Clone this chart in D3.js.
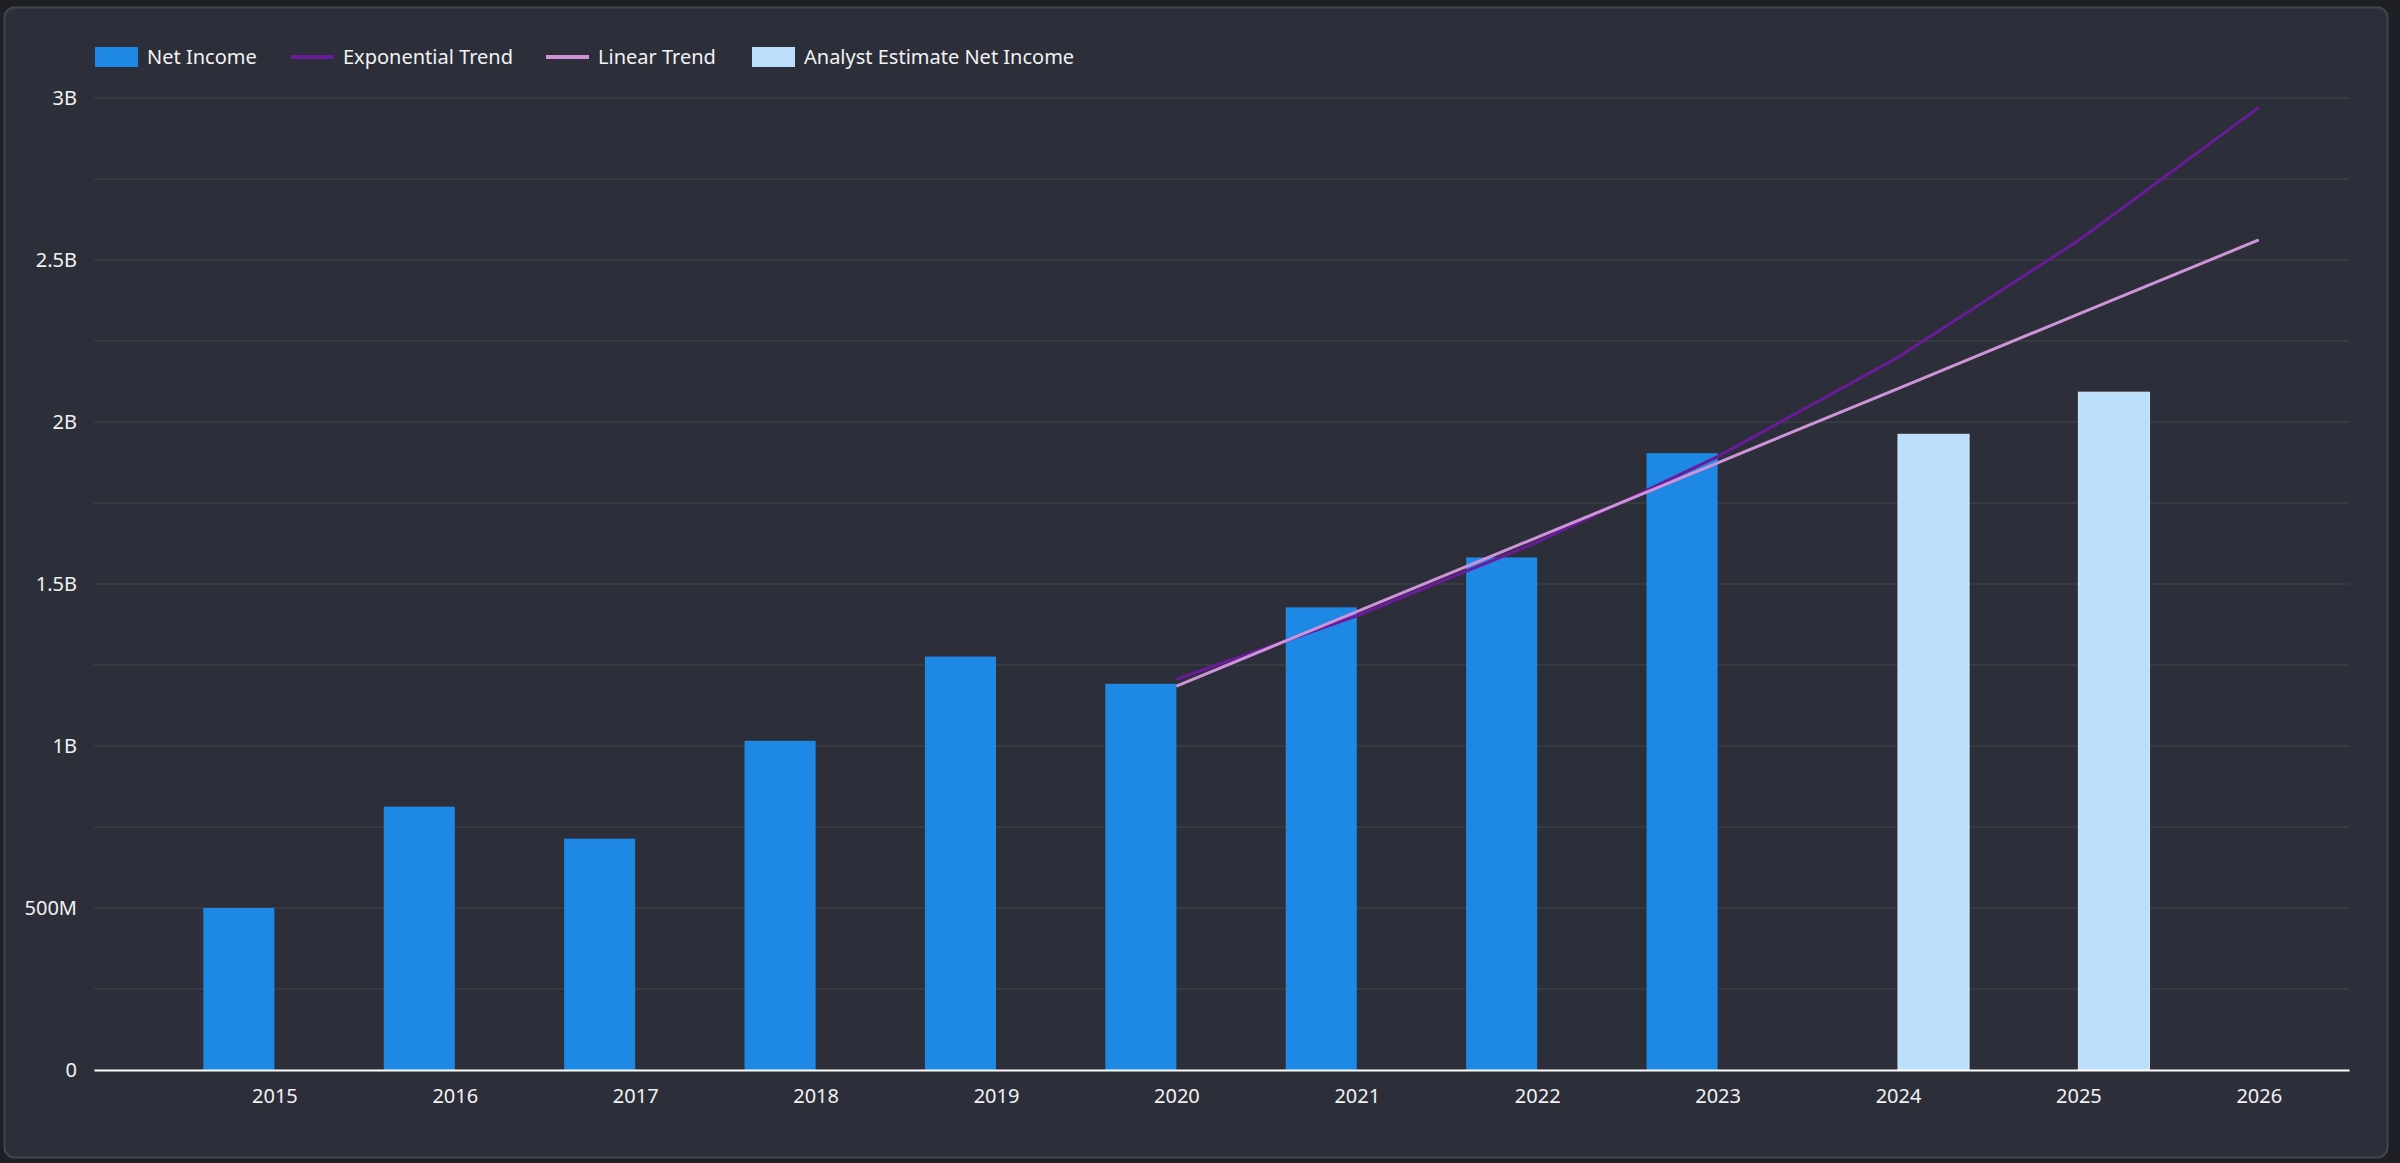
<!DOCTYPE html>
<html>
<head>
<meta charset="utf-8">
<script src="https://cdn.jsdelivr.net/npm/d3@7"></script>
<style>
  html, body { margin: 0; padding: 0; background: #1f2025; }
  svg { display: block; font-family: "Noto Sans", sans-serif; }
</style>
</head>
<body>
<svg id="canvas"></svg>
<script>
const width = 2400;
const height = 1163;

// values in billions
const years = [2015, 2016, 2017, 2018, 2019, 2020, 2021, 2022, 2023, 2024, 2025, 2026];
const netIncome = [0.500, 0.813, 0.714, 1.016, 1.276, 1.192, 1.428, 1.582, 1.904, null, null, null];
const analystEstimate = [null, null, null, null, null, null, null, null, null, 1.962, 2.092, null];
const trendYears = [2020, 2021, 2022, 2023, 2024, 2025, 2026];
const expTrend = [1.206, 1.402, 1.629, 1.893, 2.200, 2.560, 2.971];
const linTrend = [1.185, 1.415, 1.644, 1.874, 2.103, 2.333, 2.562];
const yTicks = [0, 0.5, 1, 1.5, 2, 2.5, 3];
const gridTicks = [0.25, 0.5, 0.75, 1, 1.25, 1.5, 1.75, 2, 2.25, 2.5, 2.75, 3];

const colors = {
    net: "#1e88e5",
    est: "#bbdefb",
    exp: "#6a1b9a",
    lin: "#ce93d8",
    grid: "#3b3e47",
    text: "#f2f2f2"
};

const margin = { left: 94, right: 51, top: 98, bottom: 93 };
const barW = 0.394; // bar width in years

let canvas = d3.select("#canvas").attr("width", width).attr("height", height);

// card
canvas.append("rect")
    .attr("x", 4.5).attr("y", 7.5)
    .attr("width", 2383).attr("height", 1150)
    .attr("rx", 10)
    .attr("fill", "#2c2f39")
    .attr("stroke", "#43454d")
    .attr("stroke-width", 2);

const x = d3.scaleLinear().domain([2014, 2026.5]).range([margin.left, width - margin.right]);
const y = d3.scaleLinear().domain([0, 3]).range([height - margin.bottom, margin.top]);

// gridlines
canvas.append("g")
    .selectAll("line")
    .data(gridTicks)
    .enter()
    .append("line")
    .attr("x1", margin.left).attr("x2", width - margin.right)
    .attr("y1", d => y(d)).attr("y2", d => y(d))
    .attr("stroke", colors.grid)
    .attr("stroke-width", 1.5);

// bars
const rows = years.map((yr, i) => ({ year: yr, net: netIncome[i], est: analystEstimate[i] }));

canvas.append("g")
    .selectAll("rect")
    .data(rows.filter(d => d.net != null))
    .enter()
    .append("rect")
    .attr("x", d => x(d.year - barW))
    .attr("width", d => x(d.year) - x(d.year - barW))
    .attr("y", d => y(d.net))
    .attr("height", d => y(0) - y(d.net))
    .attr("fill", colors.net);

canvas.append("g")
    .selectAll("rect")
    .data(rows.filter(d => d.est != null))
    .enter()
    .append("rect")
    .attr("x", d => x(d.year))
    .attr("width", d => x(d.year + barW) - x(d.year))
    .attr("y", d => y(d.est))
    .attr("height", d => y(0) - y(d.est))
    .attr("fill", colors.est)
    .attr("stroke", "#d6ebfc")
    .attr("stroke-width", 1);

// trend lines
const line = d3.line().x(d => x(d[0])).y(d => y(d[1]));

canvas.append("path")
    .datum(trendYears.map((yr, i) => [yr, expTrend[i]]))
    .attr("d", line)
    .attr("fill", "none")
    .attr("stroke", colors.exp)
    .attr("stroke-width", 3);

canvas.append("path")
    .datum(trendYears.map((yr, i) => [yr, linTrend[i]]))
    .attr("d", line)
    .attr("fill", "none")
    .attr("stroke", colors.lin)
    .attr("stroke-width", 3);

// axes
const fmt = v => v === 0 ? "0" : (v < 1 ? (v * 1000) + "M" : v + "B");

let xAxis = canvas.append("g")
    .attr("transform", `translate(0,${y(0)})`)
    .call(d3.axisBottom(x).tickValues(years).tickSize(0).tickPadding(19).tickFormat(d3.format("d")));
xAxis.select(".domain").attr("stroke", "#ffffff").attr("stroke-width", 2);

let yAxis = canvas.append("g")
    .attr("transform", `translate(${margin.left},0)`)
    .call(d3.axisLeft(y).tickValues(yTicks).tickSize(0).tickPadding(17).tickFormat(fmt));
yAxis.select(".domain").remove();

canvas.selectAll(".tick text")
    .attr("fill", colors.text)
    .style("font-size", "20px")
    .style("font-family", "'Noto Sans', sans-serif");

// legend
const legendItems = [
    { label: "Net Income", color: colors.net, type: "box", x: 95 },
    { label: "Exponential Trend", color: colors.exp, type: "line", x: 291 },
    { label: "Linear Trend", color: colors.lin, type: "line", x: 546 },
    { label: "Analyst Estimate Net Income", color: colors.est, type: "box", x: 752 }
];

let legend = canvas.append("g").selectAll("g")
    .data(legendItems)
    .enter()
    .append("g")
    .attr("transform", d => `translate(${d.x},57)`);

legend.filter(d => d.type === "box")
    .append("rect")
    .attr("x", 0).attr("y", -10)
    .attr("width", 43).attr("height", 20)
    .attr("fill", d => d.color);

legend.filter(d => d.type === "line")
    .append("rect")
    .attr("x", 0).attr("y", -2)
    .attr("width", 43).attr("height", 4)
    .attr("fill", d => d.color);

legend.append("text")
    .attr("x", 52)
    .attr("dy", "0.35em")
    .attr("fill", colors.text)
    .style("font-size", "20px")
    .text(d => d.label);
</script>
</body>
</html>
